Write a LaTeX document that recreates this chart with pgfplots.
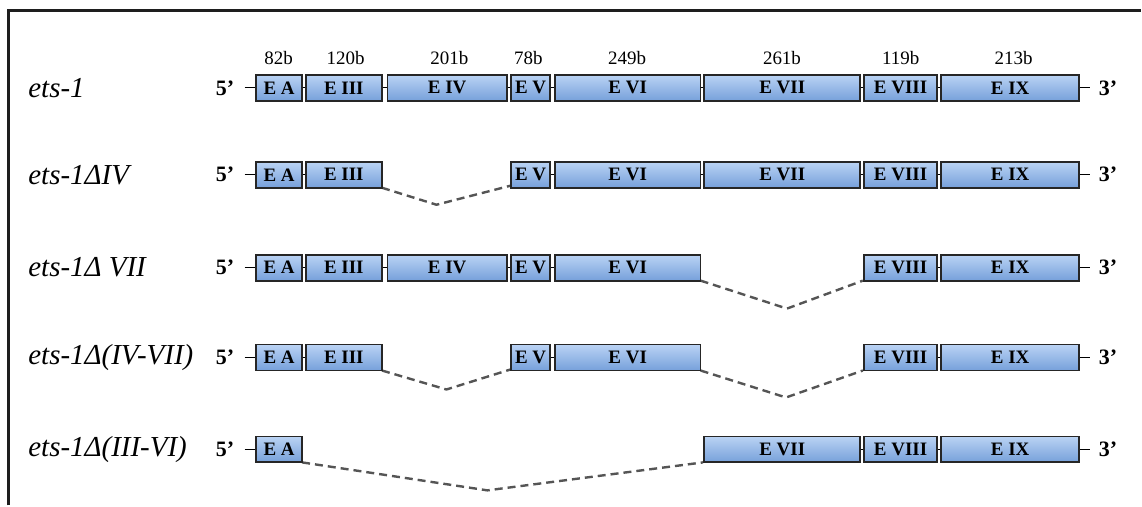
\documentclass[border=0pt]{standalone}
\usepackage{pgfplots}
\pgfplotsset{compat=1.18}
\usepackage{fontspec}
\setmainfont{Liberation Serif}
\definecolor{exTop}{RGB}{186,211,244}
\definecolor{exBot}{RGB}{118,160,218}
\definecolor{dashc}{RGB}{85,85,85}
\definecolor{framec}{RGB}{30,30,30}

\newcommand\exon[5]{%
 \addplot[draw=black!85, line width=0.9pt, top color=exTop, bottom color=exBot] coordinates {(#1,#3) (#2,#3) (#2,#4) (#1,#4)} -- cycle;
 \node[font=\fontsize{9.5}{10}\selectfont\bfseries, inner sep=0pt] at (axis cs:{(#1+#2)/2},{(#3+#4)/2}) {#5};
}
\newcommand\primeends[1]{%
 \node[font=\fontsize{11}{12}\selectfont\bfseries, anchor=east, inner sep=0pt] at (axis cs:235,#1) {5’};
 \node[font=\fontsize{11}{12}\selectfont\bfseries, anchor=west, inner sep=0pt] at (axis cs:1100,#1) {3’};
}
\newcommand\rowlabel[2]{%
 \node[font=\fontsize{14.5}{15}\selectfont\itshape, anchor=west, inner sep=0pt] at (axis cs:28,#1) {#2};
}
\newcommand\sizelabel[2]{%
 \node[font=\fontsize{9.5}{10}\selectfont] at (axis cs:#1,58) {#2};
}

\begin{document}
\begin{tikzpicture}
\begin{axis}[
  scale only axis, width=571pt, height=253pt,
  xmin=0, xmax=1142, ymin=0, ymax=506, y dir=reverse,
  hide axis, clip=false,
]
\addplot[draw=none] coordinates {(0,0) (1142,506)};
% frame
\addplot[framec, line width=1.5pt] coordinates {(9,506) (9,11) (1142,11)};

% backbone lines
\addplot[black, line width=0.6pt] coordinates {(245,88) (1091,88)};
\addplot[black, line width=0.6pt] coordinates {(245,175) (382.5,175)};
\addplot[black, line width=0.6pt] coordinates {(512,175) (1091,175)};
\addplot[black, line width=0.6pt] coordinates {(245,268) (701.5,268)};
\addplot[black, line width=0.6pt] coordinates {(865,268) (1091,268)};
\addplot[black, line width=0.6pt] coordinates {(245,358) (382.5,358)};
\addplot[black, line width=0.6pt] coordinates {(512,358) (701.5,358)};
\addplot[black, line width=0.6pt] coordinates {(865,358) (1091,358)};
\addplot[black, line width=0.6pt] coordinates {(245,450) (302.5,450)};
\addplot[black, line width=0.6pt] coordinates {(705,450) (1091,450)};

% splice (dashed) lines
\addplot[dashc, line width=1.2pt, dash pattern=on 4pt off 2.5pt] coordinates {(382.5,188) (437,205) (511,186)};
\addplot[dashc, line width=1.2pt, dash pattern=on 4pt off 2.5pt] coordinates {(701.5,281) (788,309) (864,281)};
\addplot[dashc, line width=1.2pt, dash pattern=on 4pt off 2.5pt] coordinates {(382.5,371) (447,390) (511,370)};
\addplot[dashc, line width=1.2pt, dash pattern=on 4pt off 2.5pt] coordinates {(701.5,371) (787,398) (864,371)};
\addplot[dashc, line width=1.2pt, dash pattern=on 4pt off 2.5pt] coordinates {(302.5,463) (488,491) (704,463)};

% row 1: ets-1
\exon{256.5}{302.5}{75}{101}{E A}
\exon{306}{382.5}{75}{101}{E III}
\exon{388}{507.5}{75}{101}{E IV}
\exon{512}{550.5}{75}{101}{E V}
\exon{555.5}{701.5}{75}{101}{E VI}
\exon{705}{861.5}{75}{101}{E VII}
\exon{865}{938.5}{75}{101}{E VIII}
\exon{942.5}{1080.5}{75}{101}{E IX}
% row 2
\exon{256.5}{302.5}{162}{188}{E A}
\exon{306}{382.5}{162}{188}{E III}
\exon{512}{550.5}{162}{188}{E V}
\exon{555.5}{701.5}{162}{188}{E VI}
\exon{705}{861.5}{162}{188}{E VII}
\exon{865}{938.5}{162}{188}{E VIII}
\exon{942.5}{1080.5}{162}{188}{E IX}
% row 3
\exon{256.5}{302.5}{255}{281}{E A}
\exon{306}{382.5}{255}{281}{E III}
\exon{388}{507.5}{255}{281}{E IV}
\exon{512}{550.5}{255}{281}{E V}
\exon{555.5}{701.5}{255}{281}{E VI}
\exon{865}{938.5}{255}{281}{E VIII}
\exon{942.5}{1080.5}{255}{281}{E IX}
% row 4
\exon{256.5}{302.5}{345}{371}{E A}
\exon{306}{382.5}{345}{371}{E III}
\exon{512}{550.5}{345}{371}{E V}
\exon{555.5}{701.5}{345}{371}{E VI}
\exon{865}{938.5}{345}{371}{E VIII}
\exon{942.5}{1080.5}{345}{371}{E IX}
% row 5
\exon{256.5}{302.5}{437}{463}{E A}
\exon{705}{861.5}{437}{463}{E VII}
\exon{865}{938.5}{437}{463}{E VIII}
\exon{942.5}{1080.5}{437}{463}{E IX}

% 5' and 3' ends
\primeends{88}\primeends{175}\primeends{268}\primeends{358}\primeends{450}

% row labels
\rowlabel{88}{ets-1}
\rowlabel{175}{ets-1ΔIV}
\rowlabel{268}{ets-1Δ VII}
\rowlabel{358}{ets-1Δ(IV-VII)}
\rowlabel{450}{ets-1Δ(III-VI)}

% exon sizes
\sizelabel{279}{82b}
\sizelabel{346}{120b}
\sizelabel{450}{201b}
\sizelabel{529}{78b}
\sizelabel{628}{249b}
\sizelabel{783}{261b}
\sizelabel{902}{119b}
\sizelabel{1015}{213b}
\end{axis}
\end{tikzpicture}
\end{document}
